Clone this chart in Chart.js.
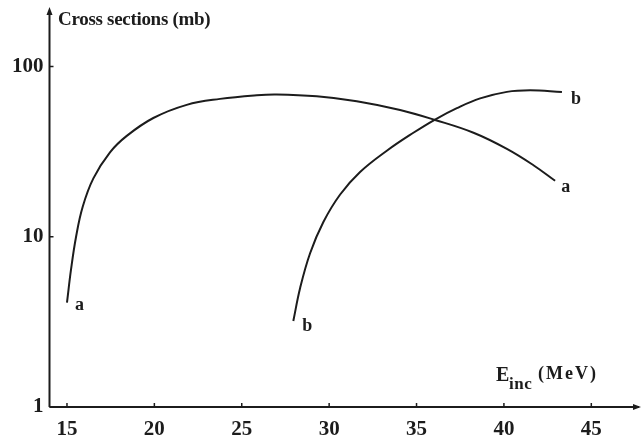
<!DOCTYPE html>
<html>
<head>
<meta charset="utf-8">
<script src="https://cdn.jsdelivr.net/npm/chart.js@4"></script>
<style>
  html, body { margin: 0; padding: 0; background: #fff; }
  #wrap { width: 642px; height: 444px; }
</style>
</head>
<body>
<div id="wrap"><canvas id="crossSections" width="642" height="444"></canvas></div>
<script>
// curve a
const energyA = [15.0, 15.23, 15.52, 15.9, 16.51, 17.46, 18.42, 19.94, 21.85, 23.76, 25.86, 27.0, 29.29, 31.58, 34.06, 36.06, 38.26, 40.17, 41.69, 42.93];
const sigmaA  = [4.1, 6.4, 10.0, 15.0, 22.0, 31.3, 39.1, 49.8, 59.5, 64.5, 67.8, 68.5, 66.8, 62.5, 55.5, 48.5, 40.8, 32.8, 26.3, 21.3];
// curve b
const energyB = [27.95, 28.34, 28.91, 29.67, 30.63, 31.77, 33.30, 34.82, 36.06, 37.31, 38.64, 40.17, 41.50, 43.32];
const sigmaB  = [3.2, 5.0, 8.0, 12.2, 17.7, 24.0, 32.0, 40.8, 48.8, 56.9, 64.9, 70.9, 72.4, 70.9];

const xTicks = [15, 20, 25, 30, 35, 40, 45];
const yTicks = [1, 10, 100];

const ink = '#1c1c1c';
const serif = "'Liberation Serif', 'DejaVu Serif', serif";

function pairs(xs, ys) {
    return xs.map((x, i) => ({ x: x, y: ys[i] }));
}

// axes with arrows, inward ticks, curve labels, axis titles
const decorations = {
    id: 'decorations',
    afterDraw(chart) {
        const ctx = chart.ctx;
        const area = chart.chartArea;
        const xs = chart.scales.x;
        const ys = chart.scales.y;
        const y0 = ys.getPixelForValue(1);
        const x0 = area.left;
        ctx.save();
        ctx.strokeStyle = ink;
        ctx.fillStyle = ink;
        ctx.lineWidth = 2;
        ctx.beginPath();
        ctx.moveTo(x0, y0);
        ctx.lineTo(639, y0);
        ctx.moveTo(x0, y0);
        ctx.lineTo(x0, 12);
        ctx.stroke();
        // arrow heads
        ctx.beginPath();
        ctx.moveTo(641, y0); ctx.lineTo(633, y0 - 3); ctx.lineTo(633, y0 + 3); ctx.closePath();
        ctx.moveTo(x0, 7); ctx.lineTo(x0 - 3, 15); ctx.lineTo(x0 + 3, 15); ctx.closePath();
        ctx.fill();
        // inward ticks
        ctx.lineWidth = 1.5;
        ctx.beginPath();
        xTicks.forEach(v => {
            const px = xs.getPixelForValue(v);
            ctx.moveTo(px, y0);
            ctx.lineTo(px, y0 - 4);
        });
        yTicks.forEach(v => {
            const py = ys.getPixelForValue(v);
            ctx.moveTo(x0, py);
            ctx.lineTo(x0 + 4, py);
        });
        ctx.stroke();

        // curve labels
        ctx.font = 'bold 18px ' + serif;
        ctx.textBaseline = 'middle';
        ctx.textAlign = 'left';
        const metaA = chart.getDatasetMeta(0).data;
        const metaB = chart.getDatasetMeta(1).data;
        const aFirst = metaA[0], aLast = metaA[metaA.length - 1];
        const bFirst = metaB[0], bLast = metaB[metaB.length - 1];
        ctx.fillText('a', aFirst.x + 8, aFirst.y + 3);
        ctx.fillText('a', aLast.x + 6, aLast.y + 7);
        ctx.fillText('b', bFirst.x + 9, bFirst.y + 5);
        ctx.fillText('b', bLast.x + 9, bLast.y + 7);

        // axis titles
        ctx.textBaseline = 'alphabetic';
        ctx.font = 'bold 19px ' + serif;
        ctx.letterSpacing = '-0.3px';
        ctx.fillText('Cross sections (mb)', 58, 25);
        ctx.letterSpacing = '0px';
        ctx.font = 'bold 20px ' + serif;
        ctx.fillText('E', 496, 381);
        ctx.font = 'bold 17px ' + serif;
        ctx.letterSpacing = '0.5px';
        ctx.fillText('inc', 509, 389);
        ctx.letterSpacing = '2px';
        ctx.font = 'bold 18px ' + serif;
        ctx.fillText('(MeV)', 538, 379);
        ctx.restore();
    }
};

new Chart(document.getElementById('crossSections'), {
    type: 'line',
    data: {
        datasets: [{
            label: 'a',
            data: pairs(energyA, sigmaA),
            borderColor: ink,
            borderWidth: 2,
            pointRadius: 0,
            tension: 0.4,
            fill: false
        }, {
            label: 'b',
            data: pairs(energyB, sigmaB),
            borderColor: ink,
            borderWidth: 2,
            pointRadius: 0,
            tension: 0.4,
            fill: false
        }]
    },
    options: {
        responsive: false,
        animation: false,
        devicePixelRatio: 1,
        layout: { padding: { left: 0, right: 7, top: 10, bottom: 0 } },
        plugins: {
            legend: { display: false },
            title: { display: false },
            tooltip: { enabled: false }
        },
        scales: {
            x: {
                type: 'linear',
                min: 14,
                max: 47.5,
                afterBuildTicks: (scale) => { scale.ticks = xTicks.map(v => ({ value: v })); },
                afterFit: (scale) => { scale.height = 37; },
                grid: { display: false, drawTicks: false },
                border: { display: false },
                ticks: {
                    color: ink,
                    padding: 10,
                    maxRotation: 0,
                    font: { family: serif, size: 21, weight: 'bold' },
                    callback: (v) => String(v)
                }
            },
            y: {
                type: 'logarithmic',
                min: 1,
                max: 191,
                afterBuildTicks: (scale) => { scale.ticks = yTicks.map(v => ({ value: v })); },
                afterFit: (scale) => { scale.width = 49.5; },
                grid: { display: false, drawTicks: false },
                border: { display: false },
                ticks: {
                    color: ink,
                    padding: 6,
                    font: { family: serif, size: 21, weight: 'bold' },
                    callback: (v) => String(v)
                }
            }
        }
    },
    plugins: [decorations]
});
</script>
</body>
</html>
